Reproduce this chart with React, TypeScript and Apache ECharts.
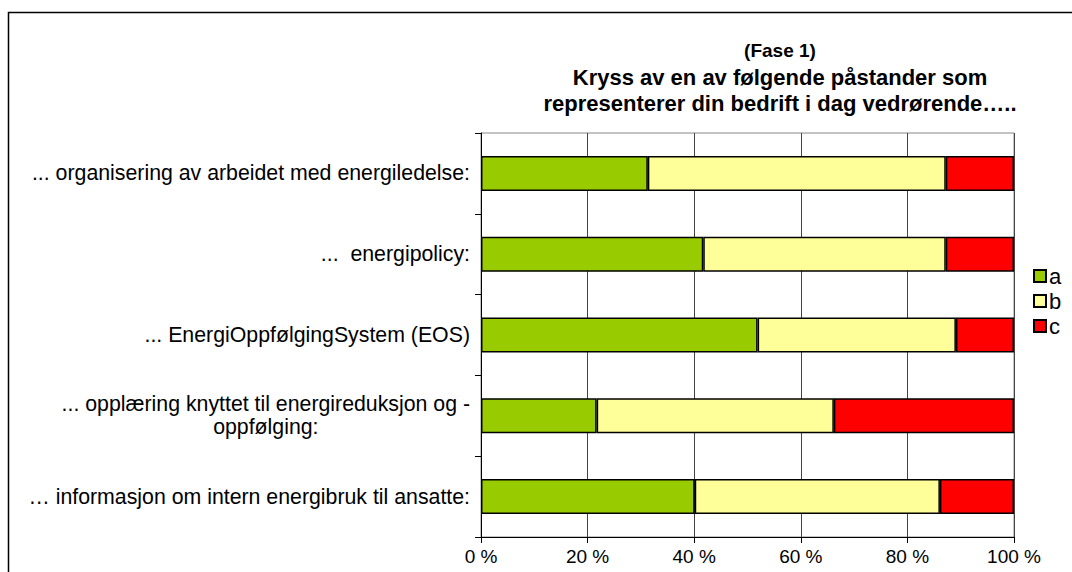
import React, { useEffect, useRef } from "react";
import * as echarts from "echarts";

const categories = [
  "... organisering av arbeidet med energiledelse:",
  "...  energipolicy:",
  "... EnergiOppfølgingSystem (EOS)",
  "... opplæring knyttet til energireduksjon og -\noppfølging:",
  "… informasjon om intern energibruk til ansatte:",
];
const seriesA = [31.3, 41.7, 51.9, 21.7, 40.1];
const seriesB = [55.9, 45.5, 37.2, 44.5, 46.0];
const seriesC = [12.8, 12.8, 10.9, 33.8, 13.9];
const xTicks = [0, 20, 40, 60, 80, 100];
const titleTop = "(Fase 1)";
const titleMain = "Kryss av en av følgende påstander som\nrepresenterer din bedrift i dag vedrørende…..";

const FONT = "'Liberation Sans', Arial, sans-serif";

export default function App() {
  const ref = useRef<HTMLDivElement>(null);
  useEffect(() => {
    if (!ref.current) return;
    const chart = echarts.init(ref.current, null, { renderer: "svg" });
    const mk = (name: string, data: number[], color: string) => ({
      name,
      type: "bar",
      stack: "total",
      data,
      barWidth: 35,
      itemStyle: { color, borderColor: "#000", borderWidth: 1.5 },
    });
    chart.setOption({
      animation: false,
      backgroundColor: "#fff",
      textStyle: { fontFamily: FONT },
      title: [
        {
          text: titleTop,
          left: 775,
          top: 36,
          textAlign: "center",
          textStyle: { fontSize: 19, fontWeight: "bold", color: "#000", fontFamily: FONT },
        },
        {
          text: titleMain,
          left: 775,
          top: 59,
          textAlign: "center",
          textStyle: { fontSize: 22, fontWeight: "bold", color: "#000", lineHeight: 26, fontFamily: FONT },
        },
      ],
      legend: {
        orient: "vertical",
        left: 1028,
        top: 260,
        itemWidth: 12,
        itemHeight: 12,
        itemGap: 3,
        icon: "rect",
        textStyle: { fontSize: 22, color: "#000", fontFamily: FONT, padding: [0, 0, 0, -2] },
        data: ["a", "b", "c"],
      },
      grid: {
        left: 481,
        right: 58,
        top: 133,
        bottom: 35,
        show: true,
        borderColor: "#888",
        borderWidth: 1,
        containLabel: false,
      },
      xAxis: {
        type: "value",
        min: xTicks[0],
        max: xTicks[xTicks.length - 1],
        interval: 20,
        axisLine: { show: true, lineStyle: { color: "#000", width: 1 } },
        axisTick: { show: true, length: 6, lineStyle: { color: "#000" } },
        splitLine: { show: true, lineStyle: { color: "#444", width: 1 } },
        axisLabel: {
          formatter: "{value} %",
          fontSize: 19,
          color: "#000",
          margin: 10,
          fontFamily: FONT,
        },
      },
      yAxis: {
        type: "category",
        inverse: true,
        data: categories,
        axisLine: { show: true, lineStyle: { color: "#000", width: 1 } },
        axisTick: { show: true, length: 6, lineStyle: { color: "#000" } },
        axisLabel: {
          fontSize: 21.3,
          color: "#000",
          margin: 11,
          lineHeight: 23,
          fontFamily: FONT,
          formatter: (v: string) =>
            v.includes("\n")
              ? v
                  .split("\n")
                  .map((l) => `{c|${l}}`)
                  .join("\n")
              : v,
          rich: {
            c: { align: "center", fontSize: 21.3, color: "#000", lineHeight: 23, fontFamily: FONT },
          },
        },
      },
      graphic: [
        {
          type: "rect",
          shape: { x: 8.5, y: 12.5, width: 1100, height: 600 },
          style: { fill: "none", stroke: "#000", lineWidth: 1.5 },
          silent: true,
        },
      ],
      series: [mk("a", seriesA, "#99CC00"), mk("b", seriesB, "#FFFF99"), mk("c", seriesC, "#FF0000")],
    });
    return () => chart.dispose();
  }, []);
  return (
    <div
      ref={ref}
      style={{ position: "absolute", left: 0, top: 0, width: 1072, height: 572 }}
    />
  );
}
